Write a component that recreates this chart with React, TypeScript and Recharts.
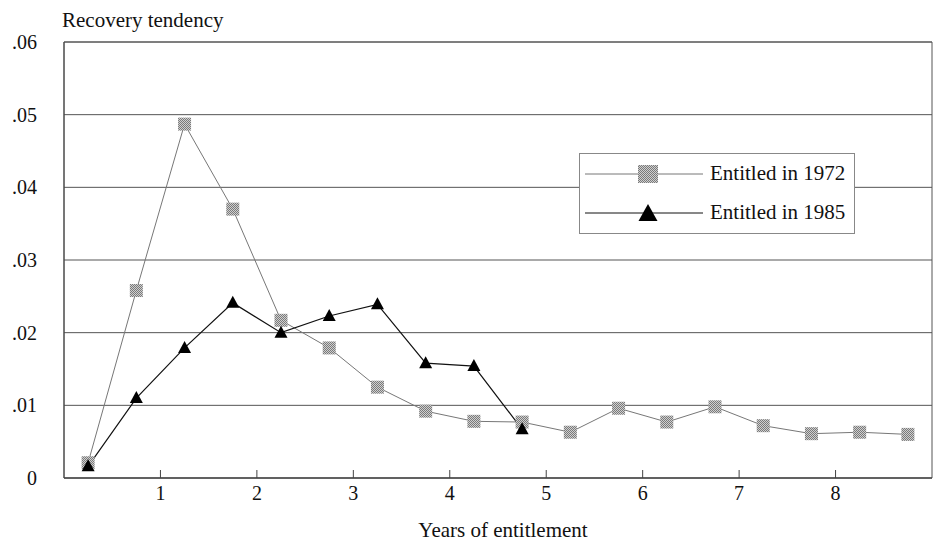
import { LineChart, Line, XAxis, YAxis, CartesianGrid, ReferenceArea, Legend } from 'recharts';

const years = [0.25, 0.75, 1.25, 1.75, 2.25, 2.75, 3.25, 3.75, 4.25, 4.75, 5.25, 5.75, 6.25, 6.75, 7.25, 7.75, 8.25, 8.75];
const entitled1972 = [0.0021, 0.0258, 0.0487, 0.037, 0.0217, 0.0179, 0.0125, 0.0092, 0.0078, 0.0077, 0.0063, 0.0096, 0.0077, 0.0098, 0.0072, 0.0061, 0.0063, 0.006];
const entitled1985 = [0.0016, 0.011, 0.0179, 0.0241, 0.02, 0.0223, 0.0239, 0.0158, 0.0154, 0.0067];
const xTicks = [1, 2, 3, 4, 5, 6, 7, 8];
const yTicks = [0, 0.01, 0.02, 0.03, 0.04, 0.05, 0.06];
const yLabels = ['0', '.01', '.02', '.03', '.04', '.05', '.06'];

const data = years.map((x, i) => ({
  x,
  e72: entitled1972[i],
  e85: i < entitled1985.length ? entitled1985[i] : null,
}));

const FONT = '"Liberation Serif", "DejaVu Serif", serif';

function Stipple({ id }: { id: string }) {
  return (
    <pattern id={id} width="2" height="2" patternUnits="userSpaceOnUse">
      <rect width="2" height="2" fill="#cfcfcf" />
      <rect width="1" height="1" fill="#7a7a7a" />
      <rect x="1" y="1" width="1" height="1" fill="#7a7a7a" />
    </pattern>
  );
}

function SquareDot(props: any) {
  const { cx, cy, index } = props;
  if (cx == null || cy == null) return <g key={`s${index}`} />;
  return <rect key={`s${index}`} x={cx - 6.5} y={cy - 6.5} width={13} height={13} fill="url(#stip)" />;
}

function TriangleDot(props: any) {
  const { cx, cy, index, value } = props;
  if (cx == null || cy == null || value == null) return <g key={`t${index}`} />;
  return <path key={`t${index}`} d={`M${cx},${cy - 7} L${cx + 6.5},${cy + 5} L${cx - 6.5},${cy + 5} Z`} fill="#000" />;
}

function XTick(props: any) {
  const { x, y, payload } = props;
  return (
    <g>
      <line x1={x} y1={y} x2={x} y2={y - 8} stroke="#444" strokeWidth={1} />
      <text x={x} y={y + 22} textAnchor="middle" fontSize={20} fill="#111" fontFamily={FONT}>
        {payload.value}
      </text>
    </g>
  );
}

function LegendBox() {
  const rows = [
    { label: 'Entitled in 1972', kind: 'square' },
    { label: 'Entitled in 1985', kind: 'triangle' },
  ];
  return (
    <div
      style={{
        width: 274,
        height: 79,
        border: '1px solid #888',
        background: '#fff',
        fontFamily: FONT,
        fontSize: 21,
        color: '#111',
        boxSizing: 'content-box',
      }}
    >
      {rows.map((r, i) => (
        <div key={r.label} style={{ display: 'flex', alignItems: 'center', height: 39, marginTop: i === 0 ? 0 : 0 }}>
          <svg width={128} height={24} style={{ display: 'block' }}>
            <defs>
              <Stipple id={`lstip${i}`} />
            </defs>
            <line x1={5} y1={12} x2={123} y2={12} stroke={r.kind === 'square' ? '#777' : '#111'} strokeWidth={1} />
            {r.kind === 'square' ? (
              <rect x={58} y={3} width={20} height={18} fill={`url(#lstip${i})`} />
            ) : (
              <path d="M68,3 L77.5,20 L58.5,20 Z" fill="#000" />
            )}
          </svg>
          <span style={{ marginLeft: 2, whiteSpace: 'nowrap' }}>{r.label}</span>
        </div>
      ))}
    </div>
  );
}

export default function App() {
  return (
    <div style={{ position: 'absolute', left: 0, top: 0, width: 934, height: 542, background: '#fff' }}>
      <LineChart width={934} height={542} data={data} margin={{ top: 42, right: 2, bottom: 0, left: 0 }}>
        <defs>
          <Stipple id="stip" />
        </defs>
        <CartesianGrid vertical={false} stroke="#555" strokeWidth={1} />
        <ReferenceArea x1={0} x2={9} y1={0} y2={0.06} fill="none" stroke="#555" strokeWidth={1} />
        <XAxis
          dataKey="x"
          type="number"
          domain={[0, 9]}
          ticks={xTicks}
          tickSize={0}
          tickMargin={0}
          tickLine={false}
          axisLine={{ stroke: '#444' }}
          height={64}
          tick={<XTick />}
          interval={0}
          label={{
            value: 'Years of entitlement',
            position: 'insideBottom',
            offset: 5,
            dx: 5,
            fontSize: 21,
            fill: '#111',
            fontFamily: FONT,
          }}
        />
        <YAxis
          type="number"
          domain={[0, 0.06]}
          ticks={yTicks}
          tickFormatter={(v: number) => yLabels[yTicks.indexOf(v)] ?? String(v)}
          width={64}
          tickLine={false}
          tickMargin={21}
          axisLine={{ stroke: '#444' }}
          tick={{ fontSize: 20, fill: '#111', fontFamily: FONT }}
          interval={0}
          label={{
            content: (p: any) => (
              <text
                x={p.viewBox.x + p.viewBox.width - 2}
                y={p.viewBox.y - 15}
                fontSize={21}
                fill="#111"
                fontFamily={FONT}
              >
                Recovery tendency
              </text>
            ),
          }}
        />
        <Legend
          layout="vertical"
          align="center"
          verticalAlign="middle"
          content={<LegendBox />}
          wrapperStyle={{ position: 'absolute', left: 579, top: 153, width: 'auto' }}
        />
        <Line
          dataKey="e72"
          name="Entitled in 1972"
          stroke="#777"
          strokeWidth={1}
          dot={SquareDot}
          activeDot={false}
          isAnimationActive={false}
        />
        <Line
          dataKey="e85"
          name="Entitled in 1985"
          stroke="#111"
          strokeWidth={1.2}
          dot={TriangleDot}
          activeDot={false}
          connectNulls={false}
          isAnimationActive={false}
        />
      </LineChart>
    </div>
  );
}
